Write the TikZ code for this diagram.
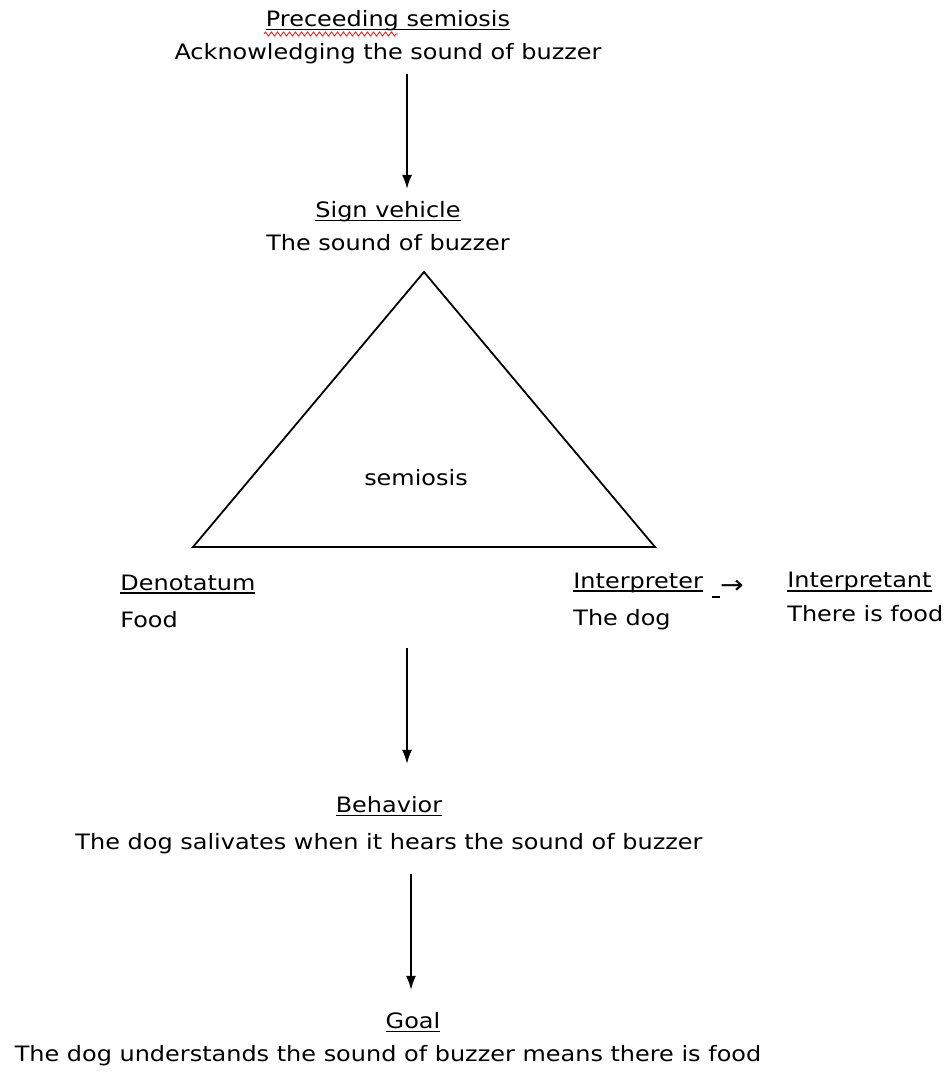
\documentclass[tikz,border=0pt]{standalone}
\usepackage{fontspec}
\setmainfont[FakeStretch=1.13]{DejaVu Sans}
\newcommand\ulin[1]{\setbox0\hbox{#1}\rlap{\rule[-2pt]{\wd0}{0.9pt}}\box0}
\usetikzlibrary{arrows.meta,decorations.pathmorphing}

\tikzset{
  lbl/.style={align=center, inner sep=2pt, font=\fontsize{10.6}{16.5}\selectfont},
  lblw/.style={lbl, font=\fontsize{10.6}{18.5}\selectfont},
  lbll/.style={lblw, align=left, anchor=west},
  arr/.style={-{Latex[length=7pt,width=5pt]}, line width=0.8pt},
}

\begin{document}
\begin{tikzpicture}[x=0.5pt,y=-0.5pt]
  \useasboundingbox (0,0) rectangle (952,1072);
  % labels
  \node[lbl] (prec) at (388,37) {\ulin{Preceeding semiosis}\\Acknowledging the sound of buzzer};
  \node[lbl] (sign) at (388,226) {\ulin{Sign vehicle}\\The sound of buzzer};
  \node[lbl] (semi) at (416,478) {semiosis};
  \node[lbll] (deno) at (116,601) {\ulin{Denotatum}\\Food};
  \node[lbll] (intr) at (569,601) {\ulin{Interpreter}\\The dog};
  \node[lbl, anchor=west] (tick) at (708,589) {\ulin{~}{\fontsize{12.5}{15}\selectfont →}};
  \node[lbll, font=\fontsize{10.6}{17}\selectfont] (inta) at (783,597) {\ulin{Interpretant}\\There is food};
  \node[lblw] (beha) at (389,825) {\ulin{Behavior}\\The dog salivates when it hears the sound of buzzer};
  \node[lbl] (goal) at (388,1039) {\hspace*{25pt}\ulin{Goal}\\The dog understands the sound of buzzer means there is food};
  % triangle
  \coordinate (top) at (424,272);
  \coordinate (bl) at (193,547);
  \coordinate (br) at (655,547);
  \draw[line width=0.9pt] (top) -- (bl) -- (br) -- cycle;
  % spell check mark
  \draw[red, decorate, decoration={zigzag,segment length=3,amplitude=1}] (264,34) -- (398,34);
  % arrows
  \coordinate (a1) at (407,0);
  \coordinate (a2) at (411,0);
  \coordinate (b0) at (407,648);
  \draw[arr, shorten <=3pt, shorten >=4pt] (prec.south -| a1) -- (sign.north -| a1);
  \draw[arr, shorten >=14pt] (b0) -- (beha.north -| a1);
  \draw[arr, shorten <=8pt, shorten >=9pt] (beha.south -| a2) -- (goal.north -| a2);
\end{tikzpicture}
\end{document}
